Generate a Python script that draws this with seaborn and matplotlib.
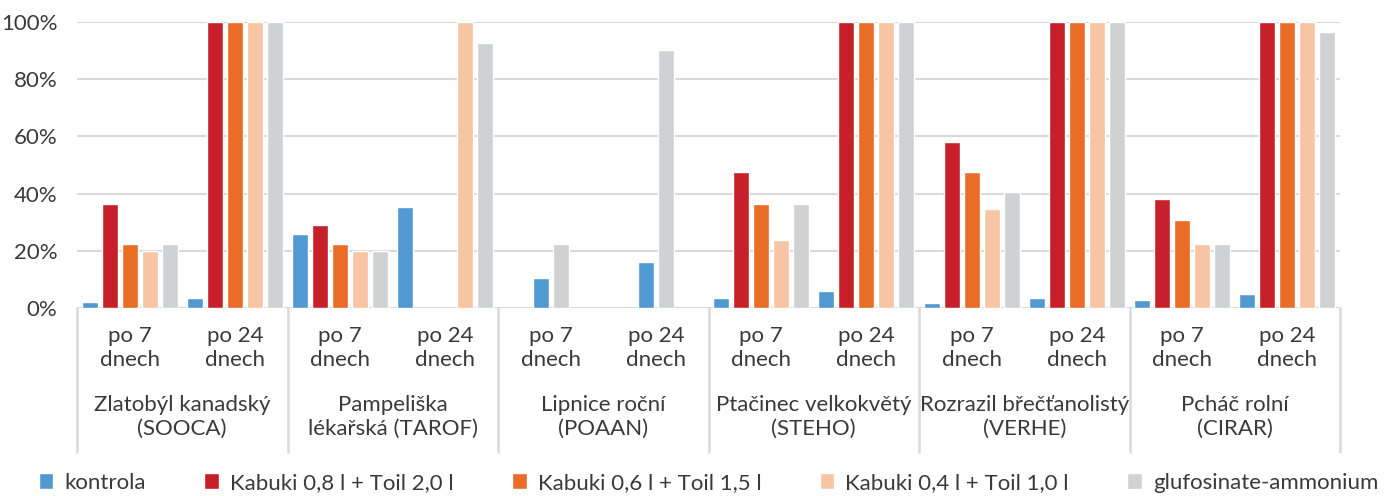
import matplotlib
matplotlib.use("Agg")
import matplotlib.pyplot as plt
import matplotlib.transforms as mtransforms
import seaborn as sns
import pandas as pd
import numpy as np

# ---- data ----
species = ["Zlatobýl kanadský\n(SOOCA)", "Pampeliška\nlékařská (TAROF)", "Lipnice roční\n(POAAN)",
           "Ptačinec velkokvětý\n(STEHO)", "Rozrazil břečťanolistý\n(VERHE)", "Pcháč rolní\n(CIRAR)"]
timepoints = ["po 7\ndnech", "po 24\ndnech"]
series = ["kontrola", "Kabuki 0,8 l + Toil 2,0 l", "Kabuki 0,6 l + Toil 1,5 l",
          "Kabuki 0,4 l + Toil 1,0 l", "glufosinate-ammonium"]
kontrola = [2.1, 3.5, 25.9, 35.3, 10.5, 16.1, 3.5, 5.9, 1.7, 3.5, 2.8, 4.9]
kabuki_08 = [36.4, 100, 29.0, None, None, None, 47.6, 100, 58.0, 100, 38.1, 100]
kabuki_06 = [22.4, 100, 22.4, None, None, None, 36.4, 100, 47.6, 100, 30.8, 100]
kabuki_04 = [20.0, 100, 20.0, 100, None, None, 23.8, 100, 34.6, 100, 22.4, 100]
glufosinate = [22.4, 100, 20.0, 92.7, 22.4, 90.2, 36.4, 100, 40.6, 100, 22.4, 96.5]
colors = ["#5199D3", "#C8202A", "#E96D26", "#F7C5A4", "#D0D1D3"]

# ---- build long table ----
subcats = [f"{s}|{t}" for s in species for t in timepoints]
rows = []
for name, vals in zip(series, [kontrola, kabuki_08, kabuki_06, kabuki_04, glufosinate]):
    for sc, v in zip(subcats, vals):
        rows.append({"sub": sc, "series": name, "value": np.nan if v is None else v})
df = pd.DataFrame(rows)

# sub-categories where no Kabuki treatment has a value are drawn compactly (only the present bars)
kab_cols = [kabuki_08, kabuki_06, kabuki_04]
compact = [sc for i, sc in enumerate(subcats) if all(c[i] is None for c in kab_cols)]
df_main = df[~df["sub"].isin(compact)].dropna()
df_compact = df[df["sub"].isin(compact)].dropna()

sns.set_theme(style="white")
FONT = ["Lato", "DejaVu Sans"]
plt.rcParams["font.family"] = FONT
TXT = "#3A3A3A"
GRID = "#D9D9D9"
FS = 16

W, H = 1400, 496
fig = plt.figure(figsize=(W / 100, H / 100), dpi=100)
L, R, T, B = 77, 1340, 22, 308
ax = fig.add_axes([L / W, 1 - B / H, (R - L) / W, (B - T) / H])

sns.barplot(data=df_main, x="sub", y="value", hue="series", order=subcats, hue_order=series,
            palette=colors, width=0.95, gap=0.2, saturation=1, ax=ax, zorder=3)
handles, labels = ax.get_legend_handles_labels()
if ax.get_legend() is not None:
    ax.get_legend().remove()

present = [s for s in series if s in set(df_compact["series"])]
sns.barplot(data=df_compact, x="sub", y="value", hue="series", order=subcats, hue_order=present,
            palette=[colors[series.index(s)] for s in present], width=0.95 * len(present) / 5,
            gap=0.2, saturation=1, ax=ax, zorder=3, legend=False)

ax.set_ylim(0, 100)
ax.set_xlim(-0.5, len(subcats) - 0.5)
ax.set_yticks([0, 20, 40, 60, 80, 100])
ax.set_yticklabels([f"{v}%" for v in [0, 20, 40, 60, 80, 100]], fontsize=FS, color=TXT)
ax.tick_params(axis="y", length=0, pad=14)
ax.set_xticks([])
ax.set_xlabel("")
ax.set_ylabel("")
for sp in ax.spines.values():
    sp.set_visible(False)
ax.yaxis.grid(True, color=GRID, linewidth=1.5, zorder=0)
ax.set_axisbelow(True)

# ---- multi-level category axis ----
tr = mtransforms.blended_transform_factory(ax.transData, fig.transFigure)
for i, sc in enumerate(subcats):
    t = sc.split("|")[1]
    ax.text(i, 1 - 348 / H, t, transform=tr, ha="center", va="center", fontsize=FS,
            color=TXT, linespacing=1.3)
for j, s in enumerate(species):
    ax.text(2 * j + 0.5, 1 - 417 / H, s, transform=tr, ha="center", va="center", fontsize=FS,
            color=TXT, linespacing=1.2)
for k in range(len(species) + 1):
    x = 2 * k - 0.5
    ax.plot([x, x], [1 - B / H, 1 - 452 / H], transform=tr, color=GRID, linewidth=1.8,
            clip_on=False)

# ---- legend ----
leg = ax.legend(handles, labels, loc="center", bbox_to_anchor=(708.5 / W, 1 - 483 / H),
                bbox_transform=fig.transFigure, ncol=5, frameon=False, fontsize=FS,
                handlelength=0.66, handleheight=0.72, handletextpad=0.5, columnspacing=2.62,
                borderaxespad=0, borderpad=0)
for t in leg.get_texts():
    t.set_color(TXT)

fig.savefig("out.png", dpi=100, facecolor="white")
